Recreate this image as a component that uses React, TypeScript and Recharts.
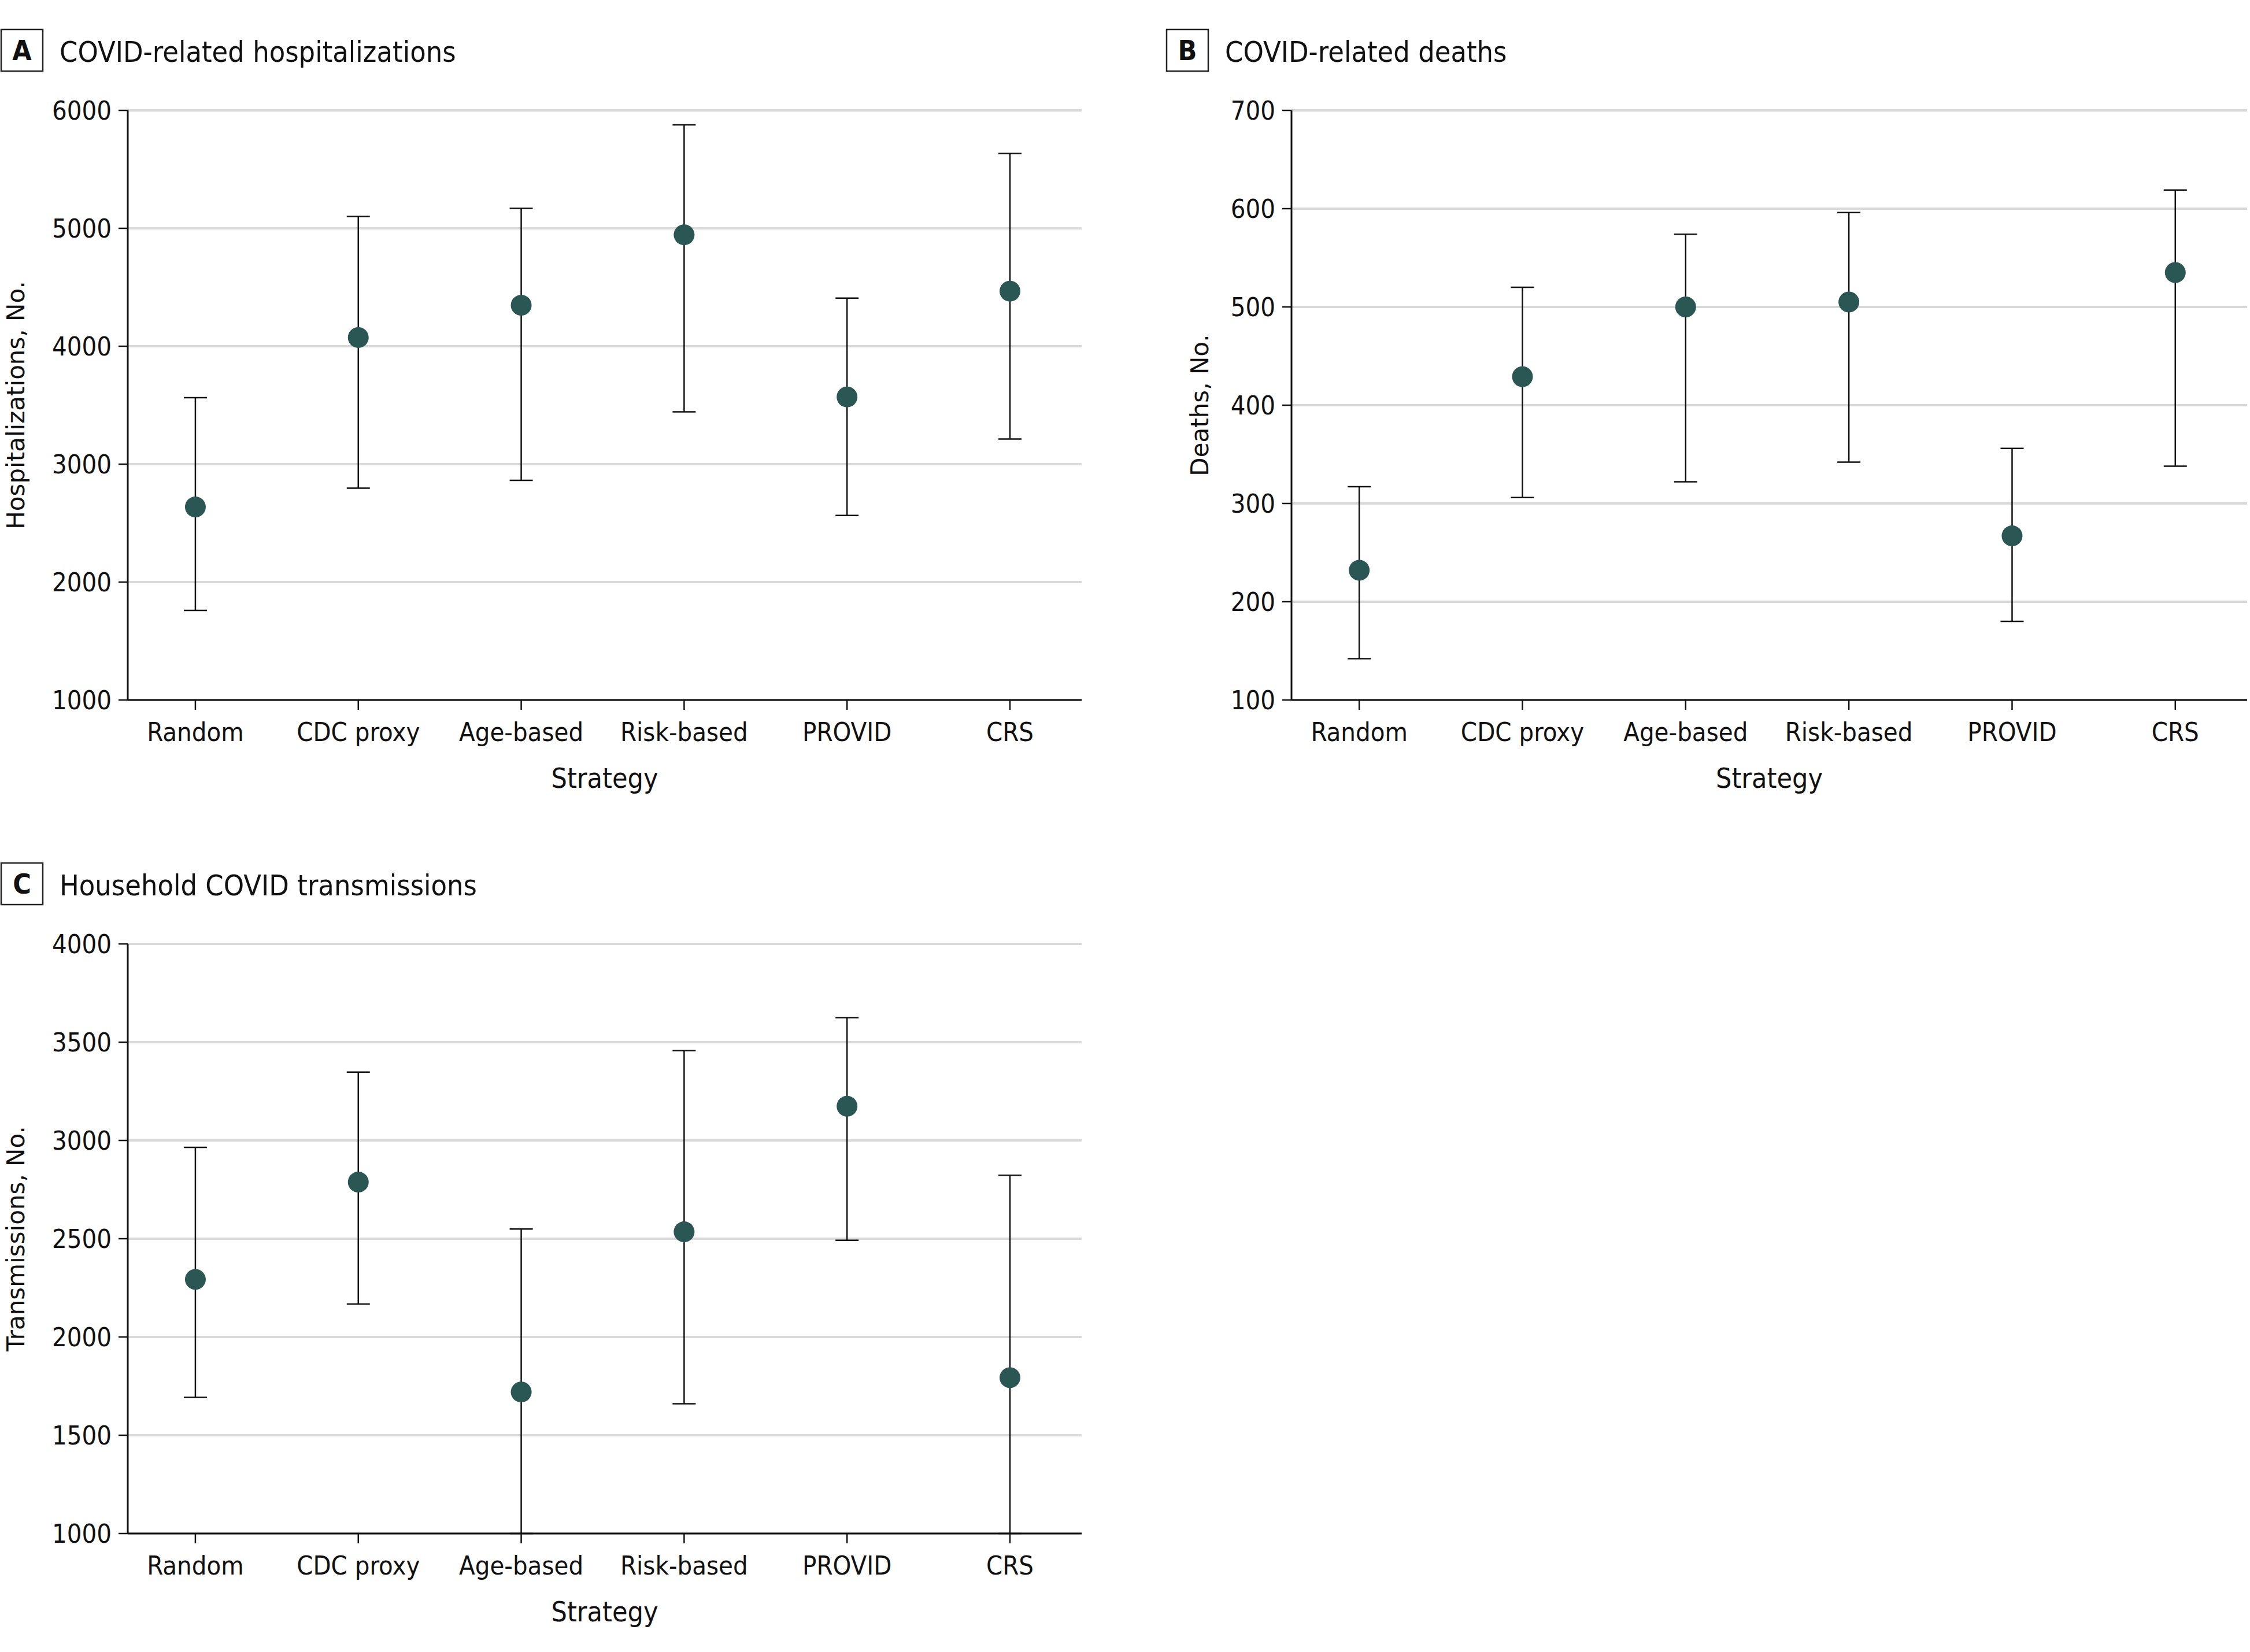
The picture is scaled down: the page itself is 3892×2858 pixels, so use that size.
import React from 'react';
import { ComposedChart, Scatter, ErrorBar, XAxis, YAxis, CartesianGrid, Label } from 'recharts';

const strategies = ['Random', 'CDC proxy', 'Age-based', 'Risk-based', 'PROVID', 'CRS'];

const hospMean = [2637, 4074, 4348, 4945, 3570, 4467];
const hospLow = [1760, 2797, 2863, 3444, 2565, 3213];
const hospHigh = [3564, 5100, 5169, 5878, 4408, 5635];
const hospTicks = [1000, 2000, 3000, 4000, 5000, 6000];

const deathMean = [232, 429, 500, 505, 267, 535];
const deathLow = [142, 306, 322, 342, 180, 338];
const deathHigh = [317, 520, 574, 596, 356, 619];
const deathTicks = [100, 200, 300, 400, 500, 600, 700];

const transMean = [2293, 2788, 1720, 2535, 3174, 1793];
const transLow = [1693, 2168, 1000, 1660, 2492, 1000];
const transHigh = [2965, 3348, 2549, 3457, 3625, 2823];
const transTicks = [1000, 1500, 2000, 2500, 3000, 3500, 4000];

const dotColor = '#2a5654';
const condFont = '"DejaVu Sans Condensed", "Liberation Sans Narrow", "Liberation Sans", sans-serif';

const W = 1900;
const H = 1250;
const TOP = 51;
const BOTTOM = 19;
const XH = 160;

const buildRows = (mean: number[], low: number[], high: number[]) =>
  strategies.map((s, i) => ({
    pos: i + 1,
    name: s,
    mean: mean[i],
    err: [mean[i] - low[i], high[i] - mean[i]],
  }));

interface PanelProps {
  left: number;
  top: number;
  yWidth: number;
  right: number;
  labelX: number;
  letter: string;
  title: string;
  yLabel: string;
  mean: number[];
  low: number[];
  high: number[];
  ticks: number[];
}

const Panel = (p: PanelProps) => {
  const data = buildRows(p.mean, p.low, p.high);
  const plotBottom = H - BOTTOM - XH;
  const plotMidY = (TOP + plotBottom) / 2;
  const plotMidX = (p.yWidth + W - p.right) / 2;
  return (
    <div style={{ position: 'absolute', left: p.left, top: p.top, width: W, height: H }}>
      <svg style={{ position: 'absolute', left: 0, top: -140 }} width={1200} height={140}>
        <rect x={2} y={51} width={72} height={72} fill="none" stroke="#222" strokeWidth={2.5} />
        <text x={38} y={104} textAnchor="middle" fontFamily={condFont} fontWeight="bold" fontSize={48} fill="#111">
          {p.letter}
        </text>
        <text x={103} y={107} fontFamily={condFont} fontSize={50} fill="#111">
          {p.title}
        </text>
      </svg>
      <ComposedChart
        width={W}
        height={H}
        data={data}
        margin={{ top: TOP, right: p.right, bottom: BOTTOM, left: 0 }}
      >
        <CartesianGrid vertical={false} stroke="#d9d9d9" strokeWidth={4} />
        <XAxis
          type="number"
          dataKey="pos"
          domain={[0.585, 6.44]}
          ticks={[1, 2, 3, 4, 5, 6]}
          interval={0}
          allowDataOverflow
          height={XH}
          tickFormatter={(v: number) => strategies[v - 1]}
          tick={{ fontFamily: condFont, fontSize: 45, fill: '#111' }}
          axisLine={{ stroke: '#111', strokeWidth: 3 }}
          tickLine={{ stroke: '#111', strokeWidth: 2.5 }}
          tickSize={17}
          tickMargin={22}
        >
          <Label
            content={() => (
              <text x={plotMidX} y={plotBottom + 152} textAnchor="middle" fontFamily={condFont} fontSize={48} fill="#111">
                Strategy
              </text>
            )}
          />
        </XAxis>
        <YAxis
          type="number"
          dataKey="mean"
          domain={[p.ticks[0], p.ticks[p.ticks.length - 1]]}
          ticks={p.ticks}
          interval={0}
          allowDataOverflow
          width={p.yWidth}
          tick={{ fontFamily: condFont, fontSize: 45, fill: '#111' }}
          axisLine={{ stroke: '#111', strokeWidth: 3 }}
          tickLine={{ stroke: '#111', strokeWidth: 2.5 }}
          tickSize={16}
          tickMargin={12}
        >
          <Label
            content={() => (
              <text
                transform={`translate(${p.labelX}, ${plotMidY}) rotate(-90)`}
                textAnchor="middle"
                fontFamily='"DejaVu Sans", sans-serif'
                fontSize={42}
                fill="#111"
              >
                {p.yLabel}
              </text>
            )}
          />
        </YAxis>
        <Scatter
          dataKey="mean"
          isAnimationActive={false}
          shape={(s: any) => <circle cx={s.cx} cy={s.cy} r={18} fill={dotColor} />}
        >
          <ErrorBar dataKey="err" direction="y" width={20} stroke="#111" strokeWidth={2.5} />
        </Scatter>
      </ComposedChart>
    </div>
  );
};

export default function App() {
  return (
    <div style={{ position: 'absolute', left: 0, top: 0, width: 3892, height: 2858, background: '#fff' }}>
      <Panel
        left={0}
        top={140}
        yWidth={221}
        right={29}
        labelX={42}
        letter="A"
        title="COVID-related hospitalizations"
        yLabel="Hospitalizations, No."
        mean={hospMean}
        low={hospLow}
        high={hospHigh}
        ticks={hospTicks}
      />
      <Panel
        left={2016}
        top={140}
        yWidth={218}
        right={29}
        labelX={74}
        letter="B"
        title="COVID-related deaths"
        yLabel="Deaths, No."
        mean={deathMean}
        low={deathLow}
        high={deathHigh}
        ticks={deathTicks}
      />
      <Panel
        left={0}
        top={1582}
        yWidth={221}
        right={29}
        labelX={42}
        letter="C"
        title="Household COVID transmissions"
        yLabel="Transmissions, No."
        mean={transMean}
        low={transLow}
        high={transHigh}
        ticks={transTicks}
      />
    </div>
  );
}
